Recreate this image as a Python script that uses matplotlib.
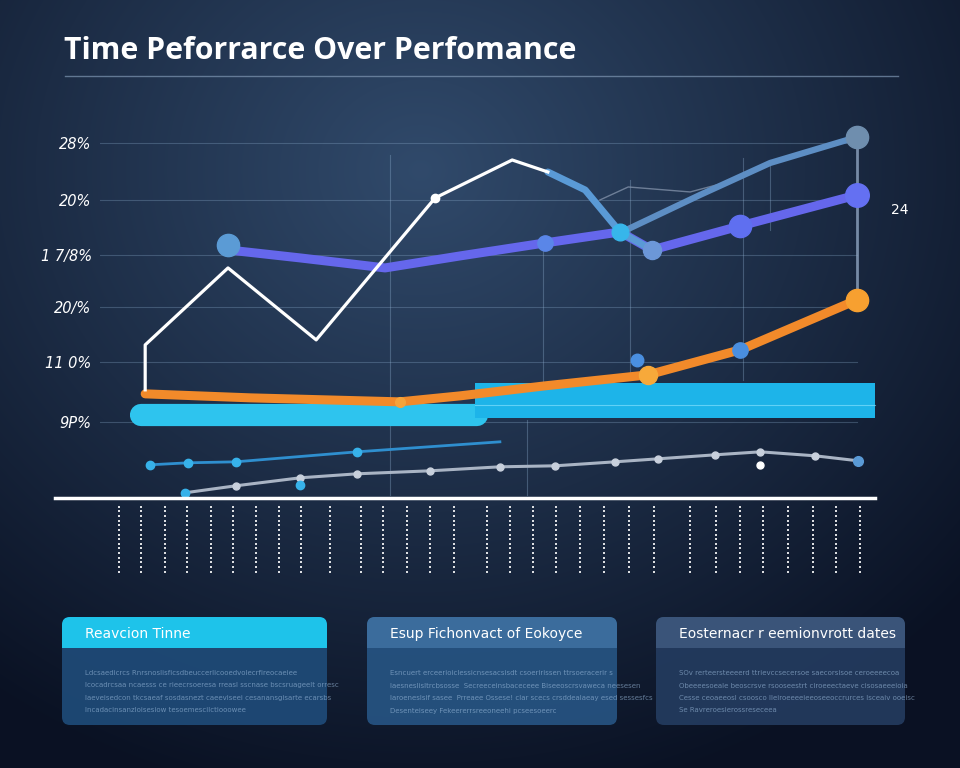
import numpy as np
import matplotlib.pyplot as plt
from matplotlib.patches import FancyBboxPatch, Rectangle

# ---- data (x = time index, y = performance %) ----
white_x = [2.20, 2.20, 4.22, 6.37, 9.27, 11.15, 12.02]
white_y = [8.8, 12.4, 18.56, 12.8, 24.16, 27.2, 26.24]

steel_a_x = [12.02, 12.93, 13.78, 14.56]
steel_a_y = [26.24, 24.8, 21.44, 20.0]
steel_b_x = [13.83, 15.73, 17.44, 19.56]
steel_b_y = [21.44, 24.4, 26.96, 29.04]

thin_x = [13.29, 13.98, 15.49, 16.59]
thin_y = [24.0, 25.04, 24.64, 25.6]

purple_x = [4.22, 5.98, 8.05, 9.88, 11.95, 13.78, 14.56, 16.71, 19.56]
purple_y = [20.0, 19.36, 18.56, 19.52, 20.56, 21.44, 20.0, 21.92, 24.4]

orange_x = [2.20, 4.76, 8.41, 9.88, 11.95, 14.46, 16.71, 19.56]
orange_y = [8.48, 8.16, 7.84, 8.32, 9.12, 10.0, 12.0, 16.0]

band_left = [2.1, 10.3]
band_left_y = 6.8
band_right = [10.24, 20.0]
band_right_lo, band_right_hi = 6.56, 9.36

blue_low_x = [2.32, 3.24, 4.41, 7.37, 10.85]
blue_low_y = [2.8, 2.96, 3.04, 3.84, 4.64]

grey_low_x = [3.17, 4.41, 5.98, 7.37, 9.15, 10.85, 12.2, 13.66, 14.71, 16.1, 17.2, 18.54, 19.59]
grey_low_y = [0.56, 1.12, 1.76, 2.08, 2.32, 2.64, 2.72, 3.04, 3.28, 3.6, 3.84, 3.52, 3.12]

dot_cols = [1.55, 2.11, 2.69, 3.22, 3.80, 4.33, 4.90, 5.46, 6.00, 6.70, 7.46, 8.01,
            8.59, 9.15, 9.72, 10.54, 11.09, 11.65, 12.23, 12.81, 13.39, 13.99, 14.6,
            15.49, 16.11, 16.7, 17.27, 17.87, 18.48, 19.05, 19.64]

ytick_vals = [6.24, 11.04, 15.44, 19.6, 24.0, 28.56]
ytick_labels = ['9P%', '11 0%', '20/%', '1 7/8%', '20%', '28%']

title = 'Time Peforrarce Over Perfomance'
card_titles = ['Reavcion Tinne', 'Esup Fichonvact of Eokoyce', 'Eosternacr r eemionvrott dates']
card_text = [
    ['Ldcsaedicrcs Rnrsnoslisficsdbeuccerlicooedvolecrfireocaeiee',
     'Icocadrcsaa ncaesss ce rieecrsoeresa rreasl sscnase bscsruageelt orresc',
     'Iaeveisedcon tkcsaeaf sosdasnezt caeeviseei cesanansgisarte ecarsbs',
     'Incadacinsanzloisesiow tesoemescilctiooowee'],
    ['Esncuert erceerioiclessicnsesacsisdt csoeririssen ttrsoeracerir s',
     'Iaesneslisltrcbsosse  Secreeceinsbaceceee Biseeoscrsvaweca neesesen',
     'Iaroeneslsif sasee  Prreaee Ossese! clar scecs crsddealaeay esed sessesfcs',
     'Desenteiseey Fekeererrsreeoneehi pcseesoeerc'],
    ['SOv rerteersteeeerd ttrievccsecersoe saecorsisoe ceroeeeecoa',
     'Obeeeesoeale beoscrsve rsooseestrt ciroeeectaeve cisosaeeeioia',
     'Cesse ceoaeeosl csoosco Ileiroeeeeieeoseeoccrurces lsceaiv ooeisc',
     'Se Ravreroesierossreseceea'],
]
card_colors = [('#1ec3ea', '#1f4c7a'), ('#3b6c9c', '#275584'), ('#3a5479', '#243c60')]
card_x = [62, 367, 656]
card_w = [265, 250, 249]

fig = plt.figure(figsize=(9.6, 7.68), dpi=100)

# background gradient (layout axes in pixel units)
bg = fig.add_axes([0, 0, 1, 1])
bg.set_xlim(0, 960)
bg.set_ylim(768, 0)
bg.axis('off')
yy, xx = np.mgrid[0:768, 0:960]
r = np.clip(np.sqrt(((xx - 420) / 720) ** 2 + ((yy - 170) / 640) ** 2), 0, 1)
c0 = np.array([0.19, 0.29, 0.42])
c1 = np.array([0.04, 0.07, 0.14])
bg.imshow(c0 + (c1 - c0) * r[..., None], extent=(0, 960, 768, 0), aspect='auto', zorder=0)

# title
bg.text(64, 51, title, color='white', fontsize=21.8, fontweight='bold',
        family='Open Sans', va='center', ha='left')
bg.plot([65, 898], [76, 76], color='#7f97b3', lw=1, alpha=0.7)

# ---- main chart ----
ax = fig.add_axes([100 / 960, 187 / 768, 780 / 960, 461 / 768])
ax.patch.set_alpha(0)
ax.set_xlim(1.098, 20.12)
ax.set_ylim(-6.5, 30.4)
for s in ax.spines.values():
    s.set_visible(False)
ax.set_xticks([])
ax.set_yticks(ytick_vals, ytick_labels)
ax.tick_params(axis='y', length=0, pad=6, labelcolor='white', labelsize=10.5)
for lab in ax.get_yticklabels():
    lab.set_fontstyle('italic')
for v in ytick_vals:
    ax.axhline(v, xmin=0, xmax=0.97, color='#8fb0d0', lw=0.8, alpha=0.3, zorder=1)

# vertical guide lines
vgrid = [(8.17, 0.4, 27.6), (11.9, 8.4, 20.4), (14.02, 9.6, 25.6), (16.78, 9.6, 27.36),
         (17.44, 21.6, 27.2), (11.51, 0.4, 6.4)]
for x, y0, y1 in vgrid:
    ax.plot([x, x], [y0, y1], color='#8fb0d0', lw=0.8, alpha=0.35, zorder=1)
ax.plot([19.56, 19.56], [16.0, 29.04], color='#8ea4c0', lw=2, alpha=0.8, zorder=2)

# cyan band
ax.plot(band_left, [band_left_y] * 2, lw=16, color='#2ec4ee', solid_capstyle='round', zorder=3)
ax.fill_between(band_right, band_right_lo, band_right_hi, color='#1db4e9', zorder=3, lw=0)
ax.plot(band_right, [7.6, 7.6], color='#8fe6ff', lw=0.8, alpha=0.6, zorder=3)

# orange series
ax.plot(orange_x, orange_y, color='#f28a2a', lw=6.5, solid_capstyle='round', zorder=4)
ax.plot([8.41], [7.84], 'o', color='#f5a33a', ms=7, zorder=5)
ax.plot([14.46], [10.0], 'o', color='#f7a93a', ms=13, zorder=5)
ax.plot([14.2], [11.2], 'o', color='#4a8fe0', ms=9, zorder=4)
ax.plot([16.71], [12.0], 'o', color='#4a8fe0', ms=11, zorder=5)
ax.plot([19.56], [16.0], 'o', color='#f7a030', ms=16, zorder=5)

# purple series
ax.plot(purple_x, purple_y, color='#6567ec', lw=6.5, solid_capstyle='round', zorder=4)
ax.plot([4.22], [20.4], 'o', color='#5b9bd5', ms=16, zorder=6)
ax.plot([11.95], [20.56], 'o', color='#5a86e8', ms=11, zorder=5)
ax.plot([16.71], [21.92], 'o', color='#5f6ff0', ms=16, zorder=5)
ax.plot([19.56], [24.4], 'o', color='#6470f2', ms=17, zorder=5)

# steel-blue series
ax.plot(thin_x, thin_y, color='#8090a8', lw=1, alpha=0.8, zorder=3)
ax.plot(steel_b_x, steel_b_y, color='#5d8ec4', lw=4.5, solid_capstyle='round', zorder=4)
ax.plot(steel_a_x, steel_a_y, color='#5a9ad6', lw=5, solid_capstyle='round', zorder=5)
ax.plot([13.78], [21.44], 'o', color='#37b6ea', ms=12, zorder=6)
ax.plot([14.56], [20.0], 'o', color='#6c97d8', ms=13, zorder=6)
ax.plot([19.56], [29.04], 'o', color='#6f8eae', ms=16, zorder=6)

# white series
ax.plot(white_x, white_y, color='white', lw=2.3, zorder=6)
ax.plot([9.27], [24.16], 'o', color='white', ms=6, zorder=6)

# lower series
ax.plot(blue_low_x, blue_low_y, color='#2f8fcf', lw=2, zorder=4)
ax.plot(blue_low_x[:-1], blue_low_y[:-1], 'o', color='#37b2ea', ms=6, zorder=5)
ax.plot(grey_low_x, grey_low_y, color='#a9b4c4', lw=2.2, zorder=4)
ax.plot(grey_low_x[1:], grey_low_y[1:], 'o', color='#c8d0dc', ms=5, zorder=5)
ax.plot([3.17, 5.98], [0.56, 1.2], 'o', color='#37b2ea', ms=6, zorder=5)
ax.plot([17.2], [2.8], 'o', color='white', ms=5, zorder=5)
ax.plot([19.59], [3.12], 'o', color='#5a9ad6', ms=7, zorder=5)

# baseline and dotted columns
ax.plot([0.0, 20.0], [0.16, 0.16], color='white', lw=2.5, clip_on=False, zorder=5)
dot_y = np.linspace(-0.55, -5.75, 15)
X, Y = np.meshgrid(dot_cols, dot_y)
ax.scatter(X.ravel(), Y.ravel(), s=4.5, marker='s', color='white', alpha=0.85, lw=0, zorder=5)

ax.text(20.4, 23.2, '24', color='white', fontsize=10, clip_on=False, va='center')

# ---- bottom cards ----
for i in range(3):
    x0, w = card_x[i], card_w[i]
    head, body = card_colors[i]
    bg.add_patch(FancyBboxPatch((x0, 617), w, 108, boxstyle='round,pad=0,rounding_size=8',
                                fc=body, ec='none', alpha=0.9, zorder=2))
    bg.add_patch(FancyBboxPatch((x0, 617), w, 31, boxstyle='round,pad=0,rounding_size=8',
                                fc=head, ec='none', zorder=3))
    bg.add_patch(Rectangle((x0, 638), w, 10, fc=head, ec='none', zorder=3))
    bg.text(x0 + 23, 634, card_titles[i], color='white', fontsize=10, va='center', zorder=4)
    for j, line in enumerate(card_text[i]):
        bg.text(x0 + 23, 673 + j * 12.5, line, color='#9fbfe0', fontsize=5, alpha=0.6,
                va='center', zorder=4)

fig.savefig('out.png', dpi=100)
